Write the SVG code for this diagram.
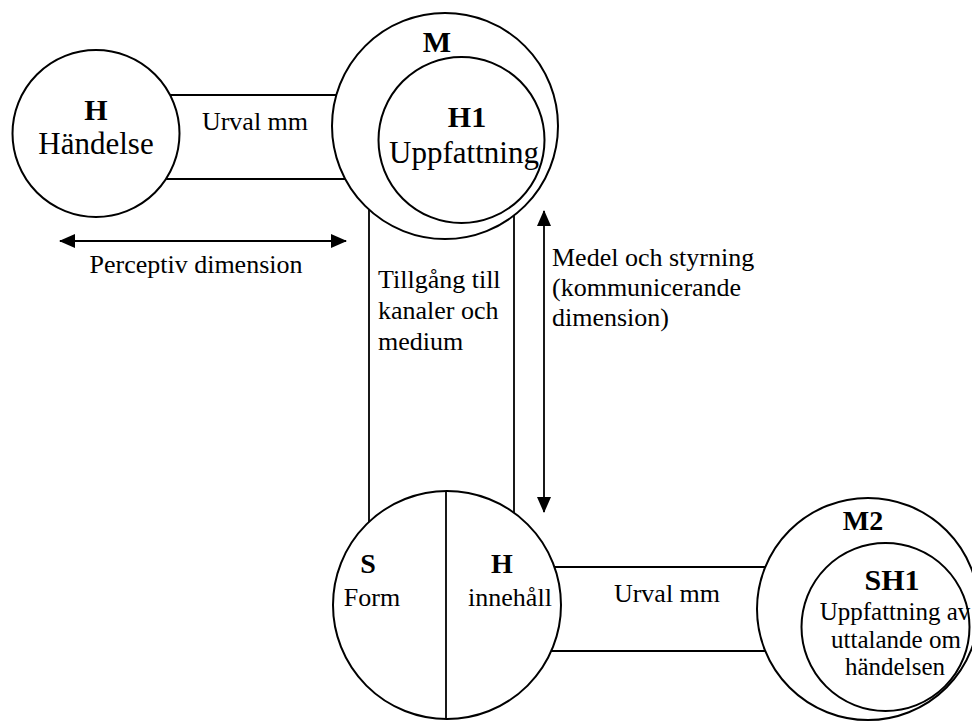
<svg xmlns="http://www.w3.org/2000/svg" width="972" height="722" viewBox="0 0 972 722">
  <style>
    .shape { fill: none; stroke: #000; stroke-width: 2; }
    .line { fill: none; stroke: #000; stroke-width: 1.8; }
    text { font-family: "Liberation Serif", "Times New Roman", serif; fill: #000; }
    .t { font-size: 26px; }
    .big { font-size: 31px; }
    .b { font-weight: bold; font-size: 30px; }
    .sm { font-size: 25px; }
    .mid { text-anchor: middle; }
  </style>
  <defs>
    <marker id="arrow" viewBox="0 0 16 14" refX="15" refY="7" markerWidth="16" markerHeight="14" markerUnits="userSpaceOnUse" orient="auto-start-reverse">
      <path d="M0,0 L16,7 L0,14 Z" fill="#000"/>
    </marker>
  </defs>
  <rect width="972" height="722" fill="#fff"/>

  <!-- connectors: bands between circles and dimension arrows -->
  <g id="connectors">
    <line class="line" x1="170" y1="95" x2="336" y2="95"/>
    <line class="line" x1="166" y1="179" x2="345" y2="179"/>
    <line class="line" x1="369" y1="210" x2="369" y2="522"/>
    <line class="line" x1="514" y1="215" x2="514" y2="513"/>
    <line class="line" x1="555" y1="567" x2="765" y2="567"/>
    <line class="line" x1="551" y1="651" x2="765" y2="651"/>
    <line class="line" x1="60" y1="241" x2="346" y2="241" marker-start="url(#arrow)" marker-end="url(#arrow)"/>
    <line class="line" x1="544" y1="211" x2="544" y2="512" marker-start="url(#arrow)" marker-end="url(#arrow)"/>
    <text class="t mid" x="255" y="130">Urval mm</text>
    <text class="t mid" x="196" y="273">Perceptiv dimension</text>
    <text class="t" x="378" y="288">Tillgång till</text>
    <text class="t" x="378" y="319">kanaler och</text>
    <text class="t" x="378" y="350">medium</text>
    <text class="t" x="552" y="266">Medel och styrning</text>
    <text class="t" x="552" y="296">(kommunicerande</text>
    <text class="t" x="552" y="326">dimension)</text>
    <text class="t mid" x="667" y="602">Urval mm</text>
  </g>

  <!-- event -->
  <g id="node-h">
    <circle class="shape" cx="96" cy="133.5" r="83.5"/>
    <text class="b mid" x="96" y="120">H</text>
    <text class="big mid" x="96" y="154">Händelse</text>
  </g>

  <!-- medium with perception -->
  <g id="node-m">
    <circle class="shape" cx="445" cy="126" r="113"/>
    <text class="b mid" x="437" y="52">M</text>
  </g>
  <g id="node-h1">
    <circle class="shape" cx="461.5" cy="140" r="83"/>
    <text class="b mid" x="467" y="127">H1</text>
    <text class="big mid" x="464" y="163">Uppfattning</text>
  </g>

  <!-- statement: form and content -->
  <g id="node-sh">
    <circle class="shape" cx="447" cy="605" r="114"/>
    <line class="line" x1="446" y1="491" x2="446" y2="719"/>
    <text class="b mid" x="368" y="573" style="font-size:28px">S</text>
    <text class="t mid" x="372" y="606">Form</text>
    <text class="b mid" x="502" y="573" style="font-size:28px">H</text>
    <text class="t mid" x="510" y="606">innehåll</text>
  </g>

  <!-- second medium -->
  <g id="node-m2">
    <circle class="shape" cx="868" cy="609" r="111"/>
    <text class="b mid" x="863" y="530" style="font-size:28px">M2</text>
  </g>
  <g id="node-sh1">
    <circle class="shape" cx="885.5" cy="627" r="84"/>
    <text class="b mid" x="892" y="590">SH1</text>
    <text class="sm mid" x="895" y="620">Uppfattning av</text>
    <text class="sm mid" x="896" y="648">uttalande om</text>
    <text class="sm mid" x="895" y="675">händelsen</text>
  </g>
</svg>
